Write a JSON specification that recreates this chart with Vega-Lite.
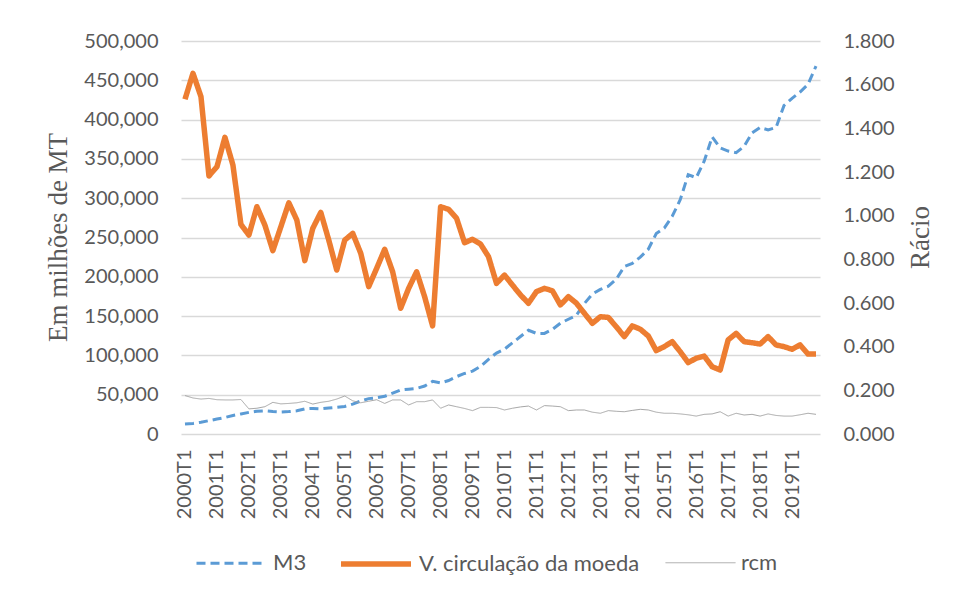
{
  "$schema": "https://vega.github.io/schema/vega-lite/v6.json",
  "width": 639,
  "height": 393,
  "autosize": "none",
  "padding": {"left": 181, "top": 41, "right": 136, "bottom": 158},
  "background": "white",
  "data": {"values": [
    {"q":"2000T1","M3":12700,"V":1.533,"rcm":0.176},
    {"q":"2000T2","M3":13500,"V":1.652,"rcm":0.165},
    {"q":"2000T3","M3":15000,"V":1.545,"rcm":0.160},
    {"q":"2000T4","M3":17000,"V":1.182,"rcm":0.163},
    {"q":"2001T1","M3":19000,"V":1.224,"rcm":0.157},
    {"q":"2001T2","M3":21000,"V":1.359,"rcm":0.156},
    {"q":"2001T3","M3":23500,"V":1.232,"rcm":0.156},
    {"q":"2001T4","M3":25500,"V":0.960,"rcm":0.158},
    {"q":"2002T1","M3":27500,"V":0.911,"rcm":0.115},
    {"q":"2002T2","M3":29000,"V":1.041,"rcm":0.118},
    {"q":"2002T3","M3":29500,"V":0.957,"rcm":0.125},
    {"q":"2002T4","M3":28500,"V":0.840,"rcm":0.145},
    {"q":"2003T1","M3":28000,"V":0.949,"rcm":0.138},
    {"q":"2003T2","M3":28500,"V":1.059,"rcm":0.140},
    {"q":"2003T3","M3":29500,"V":0.980,"rcm":0.143},
    {"q":"2003T4","M3":32000,"V":0.794,"rcm":0.150},
    {"q":"2004T1","M3":32500,"V":0.942,"rcm":0.137},
    {"q":"2004T2","M3":32000,"V":1.015,"rcm":0.145},
    {"q":"2004T3","M3":33000,"V":0.888,"rcm":0.150},
    {"q":"2004T4","M3":34000,"V":0.751,"rcm":0.160},
    {"q":"2005T1","M3":35000,"V":0.888,"rcm":0.174},
    {"q":"2005T2","M3":38000,"V":0.919,"rcm":0.152},
    {"q":"2005T3","M3":42000,"V":0.828,"rcm":0.143},
    {"q":"2005T4","M3":45000,"V":0.675,"rcm":0.150},
    {"q":"2006T1","M3":46000,"V":0.759,"rcm":0.157},
    {"q":"2006T2","M3":48000,"V":0.846,"rcm":0.140},
    {"q":"2006T3","M3":52000,"V":0.743,"rcm":0.156},
    {"q":"2006T4","M3":56000,"V":0.576,"rcm":0.156},
    {"q":"2007T1","M3":57000,"V":0.667,"rcm":0.133},
    {"q":"2007T2","M3":58000,"V":0.743,"rcm":0.148},
    {"q":"2007T3","M3":61000,"V":0.629,"rcm":0.148},
    {"q":"2007T4","M3":67000,"V":0.495,"rcm":0.156},
    {"q":"2008T1","M3":65000,"V":1.041,"rcm":0.118},
    {"q":"2008T2","M3":68000,"V":1.029,"rcm":0.133},
    {"q":"2008T3","M3":73000,"V":0.988,"rcm":0.125},
    {"q":"2008T4","M3":77000,"V":0.876,"rcm":0.117},
    {"q":"2009T1","M3":80000,"V":0.892,"rcm":0.107},
    {"q":"2009T2","M3":86000,"V":0.870,"rcm":0.122},
    {"q":"2009T3","M3":95000,"V":0.812,"rcm":0.122},
    {"q":"2009T4","M3":103000,"V":0.690,"rcm":0.121},
    {"q":"2010T1","M3":108000,"V":0.728,"rcm":0.110},
    {"q":"2010T2","M3":116000,"V":0.682,"rcm":0.118},
    {"q":"2010T3","M3":124000,"V":0.637,"rcm":0.124},
    {"q":"2010T4","M3":132000,"V":0.599,"rcm":0.128},
    {"q":"2011T1","M3":128000,"V":0.652,"rcm":0.110},
    {"q":"2011T2","M3":128000,"V":0.667,"rcm":0.130},
    {"q":"2011T3","M3":133000,"V":0.656,"rcm":0.128},
    {"q":"2011T4","M3":141000,"V":0.591,"rcm":0.125},
    {"q":"2012T1","M3":146000,"V":0.629,"rcm":0.107},
    {"q":"2012T2","M3":151000,"V":0.599,"rcm":0.110},
    {"q":"2012T3","M3":166000,"V":0.553,"rcm":0.110},
    {"q":"2012T4","M3":178000,"V":0.507,"rcm":0.100},
    {"q":"2013T1","M3":184000,"V":0.537,"rcm":0.095},
    {"q":"2013T2","M3":188000,"V":0.534,"rcm":0.107},
    {"q":"2013T3","M3":197000,"V":0.491,"rcm":0.104},
    {"q":"2013T4","M3":213000,"V":0.446,"rcm":0.102},
    {"q":"2014T1","M3":217000,"V":0.495,"rcm":0.108},
    {"q":"2014T2","M3":225000,"V":0.480,"rcm":0.113},
    {"q":"2014T3","M3":235000,"V":0.449,"rcm":0.110},
    {"q":"2014T4","M3":255000,"V":0.382,"rcm":0.100},
    {"q":"2015T1","M3":262000,"V":0.400,"rcm":0.095},
    {"q":"2015T2","M3":277000,"V":0.423,"rcm":0.095},
    {"q":"2015T3","M3":298000,"V":0.377,"rcm":0.092},
    {"q":"2015T4","M3":330000,"V":0.327,"rcm":0.088},
    {"q":"2016T1","M3":326000,"V":0.347,"rcm":0.082},
    {"q":"2016T2","M3":347000,"V":0.357,"rcm":0.090},
    {"q":"2016T3","M3":378000,"V":0.308,"rcm":0.092},
    {"q":"2016T4","M3":364000,"V":0.293,"rcm":0.102},
    {"q":"2017T1","M3":360000,"V":0.431,"rcm":0.082},
    {"q":"2017T2","M3":358000,"V":0.461,"rcm":0.095},
    {"q":"2017T3","M3":366000,"V":0.423,"rcm":0.087},
    {"q":"2017T4","M3":383000,"V":0.418,"rcm":0.090},
    {"q":"2018T1","M3":390000,"V":0.412,"rcm":0.082},
    {"q":"2018T2","M3":387000,"V":0.446,"rcm":0.092},
    {"q":"2018T3","M3":390000,"V":0.408,"rcm":0.085},
    {"q":"2018T4","M3":418000,"V":0.400,"rcm":0.082},
    {"q":"2019T1","M3":427000,"V":0.388,"rcm":0.082},
    {"q":"2019T2","M3":435000,"V":0.408,"rcm":0.088},
    {"q":"2019T3","M3":445000,"V":0.366,"rcm":0.095},
    {"q":"2019T4","M3":468000,"V":0.366,"rcm":0.090}
  ]},
  "transform": [{"fold": ["M3", "V", "rcm"], "as": ["series", "value"]}],
  "encoding": {
    "x": {
      "field": "q", "type": "ordinal", "sort": null,
      "scale": {"type": "point", "padding": 0.5},
      "axis": {
        "title": null,
        "values": ["2000T1","2001T1","2002T1","2003T1","2004T1","2005T1","2006T1","2007T1","2008T1","2009T1","2010T1","2011T1","2012T1","2013T1","2014T1","2015T1","2016T1","2017T1","2018T1","2019T1"],
        "labelAngle": -90,
        "labelPadding": 15,
        "ticks": false,
        "domain": false,
        "grid": false
      }
    },
    "color": {
      "field": "series", "type": "nominal",
      "scale": {"domain": ["M3", "V", "rcm"], "range": ["#5B9BD5", "#ED7D31", "#A5A5A5"]},
      "legend": {"title": null, "labelExpr": "datum.label == 'V' ? 'V. circulação da moeda' : datum.label"}
    },
    "strokeDash": {
      "field": "series", "type": "nominal",
      "scale": {"domain": ["M3", "V", "rcm"], "range": [[9, 5], [1, 0], [1, 0]]},
      "legend": {"title": null, "labelExpr": "datum.label == 'V' ? 'V. circulação da moeda' : datum.label"}
    },
    "strokeWidth": {
      "field": "series", "type": "nominal",
      "scale": {"type": "ordinal", "domain": ["M3", "V", "rcm"], "range": [3, 5.5, 1]},
      "legend": {"title": null, "labelExpr": "datum.label == 'V' ? 'V. circulação da moeda' : datum.label"}
    }
  },
  "layer": [
    {
      "transform": [{"filter": "datum.series === 'M3'"}],
      "mark": {"type": "line", "strokeCap": "butt"},
      "encoding": {
        "y": {
          "field": "value", "type": "quantitative",
          "scale": {"domain": [0, 500000], "nice": false},
          "axis": {
            "orient": "left",
            "title": "Em milhões de MT",
            "titleX": -123,
            "titleY": 196,
            "titleAngle": 270,
            "titleAlign": "center",
            "titleBaseline": "middle",
            "values": [0, 50000, 100000, 150000, 200000, 250000, 300000, 350000, 400000, 450000, 500000],
            "format": ",d",
            "grid": true,
            "gridColor": "#d9d9d9",
            "gridWidth": 1.3,
            "ticks": false,
            "domain": false,
            "labelPadding": 23
          }
        }
      }
    },
    {
      "transform": [{"filter": "datum.series !== 'M3'"}],
      "mark": {"type": "line", "strokeJoin": "round"},
      "encoding": {
        "y": {
          "field": "value", "type": "quantitative",
          "scale": {"domain": [0, 1.8], "nice": false},
          "axis": {
            "orient": "right",
            "title": "Rácio",
            "titleX": 100,
            "titleY": 196,
            "titleAngle": 270,
            "titleAlign": "center",
            "titleBaseline": "middle",
            "values": [0, 0.2, 0.4, 0.6, 0.8, 1.0, 1.2, 1.4, 1.6, 1.8],
            "format": ".3f",
            "grid": false,
            "ticks": false,
            "domain": false,
            "labelPadding": 23
          }
        }
      }
    }
  ],
  "resolve": {"scale": {"y": "independent"}},
  "config": {
    "view": {"stroke": null},
    "axis": {
      "labelFont": "Lato",
      "labelFontSize": 20,
      "labelColor": "#595959",
      "titleFont": "Liberation Serif",
      "titleFontSize": 27,
      "titleFontWeight": "normal",
      "titleColor": "#595959"
    },
    "legend": {
      "orient": "none",
      "legendX": 14,
      "legendY": 485,
      "padding": 0,
      "direction": "horizontal",
      "symbolType": "stroke",
      "symbolSize": 4900,
      "labelFont": "Lato",
      "labelFontSize": 22,
      "labelColor": "#595959",
      "labelLimit": 0,
      "columnPadding": 23,
      "labelOffset": 5
    }
  }
}
